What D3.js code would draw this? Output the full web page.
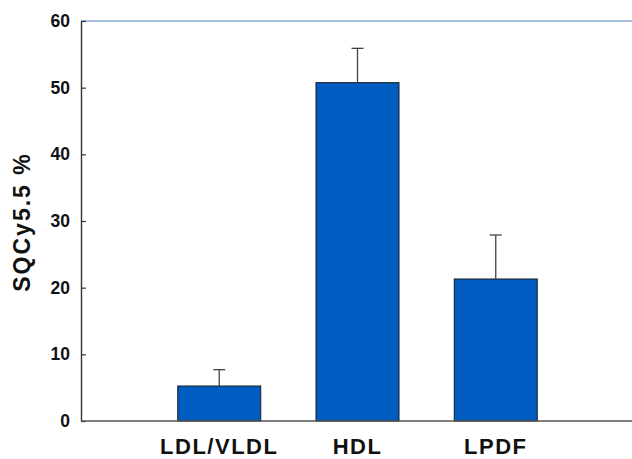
<!DOCTYPE html>
<html>
<head>
<meta charset="utf-8">
<script src="https://cdn.jsdelivr.net/npm/d3@7"></script>
<style>
  html, body { margin: 0; padding: 0; background: #fff; }
  svg text { font-family: Arial, "Liberation Sans", Helvetica, sans-serif; font-weight: bold; fill: #111; }
</style>
</head>
<body>
<svg id="chart" width="632" height="459"></svg>
<script>
// Fraction of SQCy5.5 recovered in each lipoprotein fraction (mean ± SD)
const categories = ["LDL/VLDL", "HDL", "LPDF"];
const means = [5.25, 50.75, 21.3];
const errors = [2.45, 5.15, 6.6];
const yTicks = [0, 10, 20, 30, 40, 50, 60];

const svg = d3.select("#chart");
const plotLeft = 81, plotRight = 634, plotTop = 21, plotBottom = 421;

// Slots 0..4; the three bars sit at slots 1, 2, 3
const x = d3.scalePoint()
  .domain(["_start", ...categories, "_end"])
  .range([plotLeft, plotRight]);
const barW = 83;

const y = d3.scaleLinear().domain([0, 60]).range([plotBottom, plotTop]);

// Frame line across the top
svg.append("line")
  .attr("x1", plotLeft).attr("x2", 632)
  .attr("y1", y(60)).attr("y2", y(60))
  .attr("stroke", "#4f7fbf").attr("stroke-width", 1.2);

// Bars
svg.selectAll("rect.bar")
  .data(categories)
  .join("rect")
  .attr("class", "bar")
  .attr("x", d => x(d) - barW / 2)
  .attr("width", barW)
  .attr("y", (d, i) => y(means[i]))
  .attr("height", (d, i) => y(0) - y(means[i]))
  .attr("fill", "#005cc0")
  .attr("stroke", "#1a1a1a")
  .attr("stroke-width", 1);

// Upper error bars
const eb = svg.selectAll("g.err").data(categories).join("g").attr("class", "err");
eb.append("line")
  .attr("x1", d => x(d)).attr("x2", d => x(d))
  .attr("y1", (d, i) => y(means[i]))
  .attr("y2", (d, i) => y(means[i] + errors[i]))
  .attr("stroke", "#444").attr("stroke-width", 1.3);
eb.append("line")
  .attr("x1", d => x(d) - 6).attr("x2", d => x(d) + 6)
  .attr("y1", (d, i) => y(means[i] + errors[i]))
  .attr("y2", (d, i) => y(means[i] + errors[i]))
  .attr("stroke", "#444").attr("stroke-width", 1.3);

// Y axis with inward ticks
const yAxis = svg.append("g")
  .attr("transform", `translate(${plotLeft},0)`)
  .call(d3.axisRight(y).tickValues(yTicks).tickSize(5).tickSizeOuter(0));
yAxis.select(".domain").attr("stroke", "#333").attr("stroke-width", 1.4);
yAxis.selectAll(".tick line").attr("stroke", "#333").attr("stroke-width", 1.2);
yAxis.selectAll(".tick text")
  .attr("x", -11)
  .attr("text-anchor", "end")
  .attr("font-size", 17.5)
  .attr("fill", "#111");

// X baseline
svg.append("line")
  .attr("x1", plotLeft).attr("x2", 632)
  .attr("y1", y(0)).attr("y2", y(0))
  .attr("stroke", "#555").attr("stroke-width", 1.4);

// Category labels
svg.selectAll("text.cat")
  .data(categories)
  .join("text")
  .attr("class", "cat")
  .attr("x", d => x(d))
  .attr("y", 454)
  .attr("text-anchor", "middle")
  .attr("font-size", 22)
  .style("letter-spacing", "1.5px")
  .text(d => d);

// Y axis title
svg.append("text")
  .attr("transform", "translate(30,222) rotate(-90)")
  .attr("text-anchor", "middle")
  .attr("font-size", 23)
  .style("letter-spacing", "2px")
  .text("SQCy5.5 %");
</script>
</body>
</html>
